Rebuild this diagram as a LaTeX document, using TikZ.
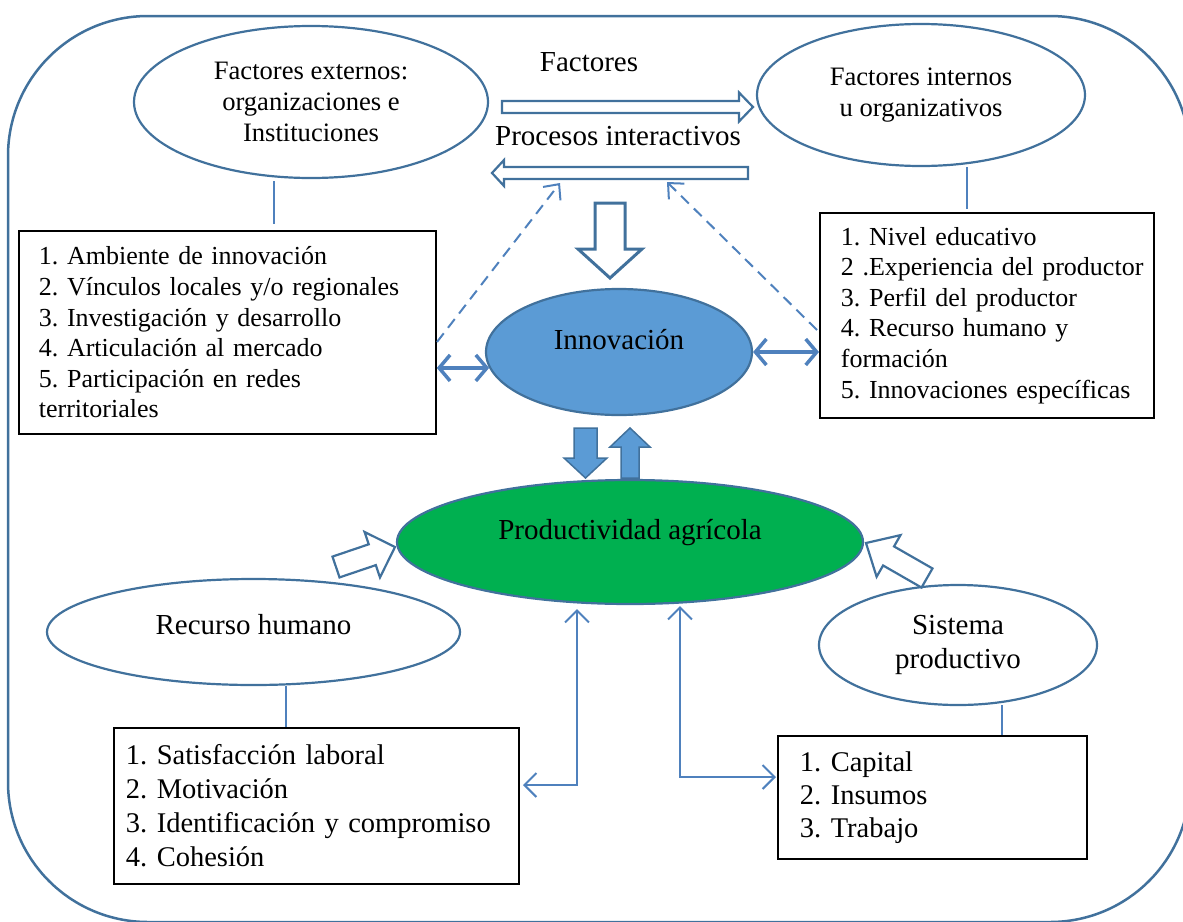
\documentclass[tikz,border=0pt]{standalone}
\usepackage{fontspec}
\setmainfont{Liberation Serif}
\usetikzlibrary{shapes.geometric,arrows.meta,calc}
\definecolor{olblue}{HTML}{41719C}
\definecolor{lnblue}{HTML}{4F81BD}
\definecolor{fillblue}{HTML}{5B9BD5}
\definecolor{fillgreen}{HTML}{00B050}
% #1 style, #2 start, #3 end (tip), #4 shaft half width, #5 head half width, #6 head length
\newcommand\blockarrow[6]{%
  \path (#2) coordinate (ba-s) (#3) coordinate (ba-e);
  \path ($(ba-e)!#6!(ba-s)$) coordinate (ba-h);
  \draw[#1] ($(ba-s)!#4!90:(ba-e)$) -- ($(ba-h)!#4!-90:(ba-s)$) -- ($(ba-h)!#5!-90:(ba-s)$)
     -- (ba-e) -- ($(ba-h)!#5!90:(ba-s)$) -- ($(ba-h)!#4!90:(ba-s)$) -- ($(ba-s)!#4!-90:(ba-e)$) -- cycle;}
\tikzset{
  ell/.style={ellipse, draw=olblue, line width=2.2pt, inner sep=0pt, align=center},
  box/.style={draw=black, line width=1.8pt, anchor=north west, inner ysep=0pt, align=left},
  tfont/.style={font=\fontsize{26.6}{30.6}\selectfont},
  tboxfont/.style={font=\fontsize{26}{30.6}\selectfont},
  bfont/.style={font=\fontsize{29}{34}\selectfont},
  bboxfont/.style={font=\fontsize{28.5}{34}\selectfont},
  link/.style={draw=lnblue, line width=1.5pt},
  dbl/.style={draw=lnblue, line width=3.5pt, {Straight Barb[length=11pt,width=26pt]}-{Straight Barb[length=11pt,width=26pt]}},
  elbow/.style={draw=lnblue, line width=2pt, {Straight Barb[length=12pt,width=24pt]}-{Straight Barb[length=12pt,width=24pt]}},
  dasharr/.style={draw=lnblue, line width=2pt, dash pattern=on 11pt off 7pt, -{Straight Barb[length=12pt,width=22pt]}},
  hollow/.style={draw=olblue, fill=white, line width=2.2pt, line join=miter},
  bighollow/.style={draw=olblue, fill=white, line width=3pt, line join=miter},
  solidarr/.style={draw=olblue, fill=fillblue, line width=1.5pt, line join=miter},
}
\begin{document}
\frenchspacing
\begin{tikzpicture}[x=1pt,y=-1pt]
\useasboundingbox (0,0) rectangle (1183,921);
\begin{scope}
  \clip (0,0) rectangle (1183,921);
  \draw[olblue, line width=2.5pt, rounded corners=140pt] (8,16) rectangle (1190,922);
\end{scope}

% ellipses
\node[ell, tfont, minimum width=354pt, minimum height=152pt] (ext) at (311,102)
  {Factores externos:\\organizaciones e\\Instituciones};
\node[ell, tfont, minimum width=328pt, minimum height=142pt] (int) at (921,95)
  {Factores internos\\u organizativos};
\node[ell, bfont, fill=fillblue, minimum width=266pt, minimum height=126pt] (inn) at (619,352)
  {\raisebox{12pt}[\height][\depth]{Innovación}};
\node[ell, bfont, fill=fillgreen, minimum width=466pt, minimum height=124pt] (prod) at (630,542)
  {\raisebox{9pt}[\height][\depth]{Productividad agrícola}};
\node[ell, bfont, minimum width=413pt, minimum height=106pt] (rh) at (253.5,632)
  {\raisebox{7pt}[\height][\depth]{Recurso humano}};
\node[ell, bfont, minimum width=278pt, minimum height=120pt] (sp) at (958,645)
  {Sistema\\productivo};

% labels
\node[bfont] (lf) at (589,62) {Factores};
\node[bfont] (lp) at (618,136) {Procesos interactivos};

% boxes
\node[box, tboxfont, minimum width=417pt, minimum height=203pt, text width=377pt, inner xsep=20pt] (lbox) at (18,230)
  {1. Ambiente de innovación\\2. Vínculos locales y/o regionales\\3. Investigación y desarrollo\\4. Articulación al mercado\\5. Participación en redes\\territoriales};
\node[box, tboxfont, minimum width=334pt, minimum height=205pt, text width=292pt, inner xsep=21pt] (rbox) at (819,212)
  {1. Nivel educativo\\\mbox{2 .Experiencia del productor}\\3. Perfil del productor\\4. Recurso humano y\\formación\\\mbox{5. Innovaciones específicas}};
\node[box, bboxfont, minimum width=405pt, minimum height=156pt, text width=381pt, inner xsep=12pt] (lbb) at (113,727)
  {1. Satisfacción laboral\\2. Motivación\\3. Identificación y compromiso\\4. Cohesión};
\node[box, bboxfont, font=\fontsize{28.5}{33}\selectfont, minimum width=309pt, minimum height=123pt, text width=265pt, inner xsep=22pt] (rbb) at (777,735)
  {1. Capital\\2. Insumos\\3. Trabajo};

% links ellipse -> box
\coordinate (l1a) at (274,181); \coordinate (l1b) at (274,224);
\coordinate (l2a) at (967,167); \coordinate (l2b) at (967,209);
\coordinate (l3a) at (286,686); \coordinate (l3b) at (286,727);
\coordinate (l4a) at (1002,705); \coordinate (l4b) at (1002,735);
\draw[link] (l1a) -- (l1b);
\draw[link] (l2a) -- (l2b);
\draw[link] (l3a) -- (l3b);
\draw[link] (l4a) -- (l4b);

% top block arrows
\blockarrow{hollow}{502,107}{753,107}{6pt}{14.5pt}{14pt}
\blockarrow{hollow}{748,173}{492,173}{6pt}{13pt}{12pt}
\blockarrow{bighollow}{610,203}{610,278}{15pt}{32pt}{29pt}

% dashed arrows
\coordinate (dls) at (437,342); \coordinate (dle) at (560,183);
\coordinate (drs) at (817,330); \coordinate (dre) at (667,182);
\draw[dasharr] (dls) -- (dle);
\draw[dasharr] (drs) -- (dre);

% double arrows to Innovación
\draw[dbl] (inn.187 -| lbox.east) -- (inn.187);
\draw[dbl] (inn.east) -- (inn.east -| rbox.west);

% filled arrows between Innovación and Productividad
\blockarrow{solidarr}{585.5,428}{585.5,478}{11.5pt}{21.5pt}{20pt}
\blockarrow{solidarr}{630,478}{630,428}{9pt}{20pt}{19pt}

% hollow arrows into Productividad
\blockarrow{hollow}{336,567}{395,547}{11pt}{24pt}{24pt}
\blockarrow{hollow}{927,578}{866,543}{11pt}{24pt}{26pt}

% elbow arrows
\coordinate (pl) at (577,609); \coordinate (ble) at (523,785);
\coordinate (pr) at (680,606); \coordinate (bre) at (776,777);
\draw[elbow] (pl) |- (ble);
\draw[elbow] (pr) |- (bre);
\end{tikzpicture}
\end{document}
